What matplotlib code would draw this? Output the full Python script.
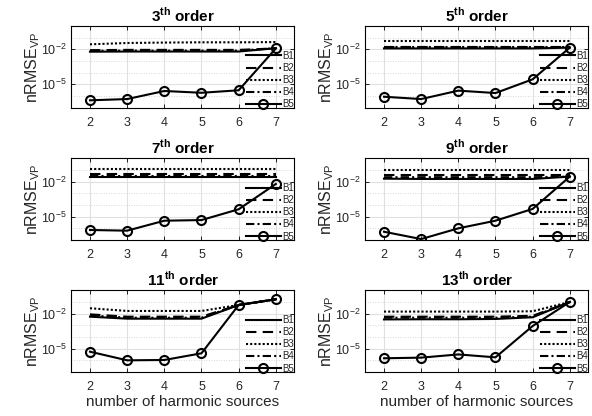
import matplotlib
matplotlib.use("Agg")
import matplotlib.pyplot as plt
from matplotlib.ticker import FixedLocator, FixedFormatter, NullFormatter

plt.rcParams["font.family"] = ["Liberation Sans", "DejaVu Sans"]
plt.rcParams["mathtext.fontset"] = "custom"
plt.rcParams["mathtext.rm"] = "Liberation Sans"
plt.rcParams["mathtext.bf"] = "Liberation Sans:bold"

# ---- data ----
sources = [2, 3, 4, 5, 6, 7]
orders = ["3", "5", "7", "9", "11", "13"]
labels = ["B1", "B2", "B3", "B4", "B5"]

b1 = {
    "3":  [6.3e-3, 6.5e-3, 6.5e-3, 6.5e-3, 6.5e-3, 1.25e-2],
    "5":  [1.2e-2, 1.2e-2, 1.2e-2, 1.2e-2, 1.2e-2, 1.4e-2],
    "7":  [2.3e-2, 2.3e-2, 2.3e-2, 2.3e-2, 2.3e-2, 2.3e-2],
    "9":  [1.8e-2, 1.7e-2, 1.7e-2, 1.7e-2, 1.7e-2, 2.7e-2],
    "11": [5.5e-3, 3.7e-3, 3.7e-3, 3.7e-3, 5.5e-2, 1.7e-1],
    "13": [3.2e-3, 3.3e-3, 3.3e-3, 3.5e-3, 4.9e-3, 1.0e-1],
}
b2 = {
    "3":  [8.5e-3, 9.0e-3, 9.0e-3, 9.0e-3, 9.0e-3, 1.2e-2],
    "5":  [1.7e-2, 1.7e-2, 1.7e-2, 1.7e-2, 1.7e-2, 1.7e-2],
    "7":  [4.5e-2, 4.5e-2, 4.5e-2, 4.5e-2, 4.5e-2, 4.5e-2],
    "9":  [3.5e-2, 3.5e-2, 3.5e-2, 3.5e-2, 3.5e-2, 3.5e-2],
    "11": [8.7e-3, 5.5e-3, 5.5e-3, 5.5e-3, 5.5e-2, 1.7e-1],
    "13": [5.5e-3, 5.5e-3, 5.5e-3, 5.5e-3, 6.5e-3, 1.0e-1],
}
b3 = {
    "3":  [2.7e-2, 3.5e-2, 3.8e-2, 4.0e-2, 4.0e-2, 4.2e-2],
    "5":  [5.5e-2, 5.5e-2, 5.5e-2, 5.5e-2, 5.5e-2, 5.5e-2],
    "7":  [1.2e-1, 1.2e-1, 1.2e-1, 1.2e-1, 1.2e-1, 1.2e-1],
    "9":  [9.3e-2, 9.3e-2, 9.3e-2, 9.3e-2, 9.3e-2, 9.3e-2],
    "11": [2.9e-2, 1.7e-2, 1.7e-2, 1.7e-2, 5.5e-2, 1.7e-1],
    "13": [1.5e-2, 1.5e-2, 1.5e-2, 1.5e-2, 1.6e-2, 1.0e-1],
}
b4 = {
    "3":  [7.5e-3, 7.8e-3, 7.8e-3, 7.8e-3, 7.8e-3, 1.25e-2],
    "5":  [1.45e-2, 1.45e-2, 1.45e-2, 1.45e-2, 1.45e-2, 1.45e-2],
    "7":  [3.2e-2, 3.2e-2, 3.2e-2, 3.2e-2, 3.2e-2, 3.2e-2],
    "9":  [2.4e-2, 2.4e-2, 2.4e-2, 2.4e-2, 2.4e-2, 2.7e-2],
    "11": [7.0e-3, 4.5e-3, 4.5e-3, 4.5e-3, 5.5e-2, 1.7e-1],
    "13": [4.5e-3, 4.5e-3, 4.5e-3, 4.5e-3, 5.5e-3, 1.0e-1],
}
b5 = {
    "3":  [4.3e-7, 5.5e-7, 2.7e-6, 1.9e-6, 3.1e-6, 1.2e-2],
    "5":  [8.7e-7, 5.5e-7, 2.9e-6, 1.8e-6, 2.7e-5, 1.4e-2],
    "7":  [7.2e-7, 6.3e-7, 4.5e-6, 5.1e-6, 4.3e-5, 6.3e-3],
    "9":  [5.1e-7, 1.2e-7, 1.0e-6, 4.5e-6, 4.6e-5, 2.7e-2],
    "11": [5.5e-6, 1.0e-6, 1.07e-6, 4.0e-6, 5.5e-2, 1.7e-1],
    "13": [1.5e-6, 1.7e-6, 3.2e-6, 1.8e-6, 8.7e-4, 1.0e-1],
}
yticks = [1e-5, 1e-2]
ytick_labels = [r"$\mathregular{10^{-5}}$", r"$\mathregular{10^{-2}}$"]

# ---- layout (figure fractions) ----
W, H = 592, 416
lefts = [71.4 / W, 365.4 / W]
bottoms = [1 - 107.7 / H, 1 - 240 / H, 1 - 372 / H]
aw, ah = 223 / W, 81.7 / H
txt = "#262626"

styles = [
    dict(ls="-"),
    dict(ls=(0, (5, 3))),
    dict(ls=(0, (1, 1))),
    dict(ls=(0, (4, 1.5, 1, 1.5))),
    dict(ls="-", marker="o", mfc="none", mec="black", ms=6.5, mew=1.5),
]

fig = plt.figure(figsize=(W / 100, H / 100), dpi=100)

for i, order in enumerate(orders):
    row, col = divmod(i, 2)
    ax = fig.add_axes([lefts[col], bottoms[row], aw, ah])
    series = [b1[order], b2[order], b3[order], b4[order], b5[order]]
    for vals, lab, st in zip(series, labels, styles):
        ax.plot(sources, vals, color="black", lw=1.5, label=lab, **st)

    ax.set_yscale("log")
    ax.set_ylim(1e-7, 1e0)
    ax.set_xlim(1.5, 7.5)
    ax.set_xticks(sources)
    ax.yaxis.set_major_locator(FixedLocator(yticks))
    ax.yaxis.set_major_formatter(FixedFormatter(ytick_labels))
    ax.yaxis.set_minor_locator(FixedLocator([10.0 ** k for k in range(-7, 1)]))
    ax.yaxis.set_minor_formatter(NullFormatter())
    ax.grid(True, which="major", color="#e0e0e0", lw=0.8)
    ax.grid(True, which="minor", axis="y", color="#cccccc", lw=0.6, ls=(0, (1, 2)))
    ax.set_axisbelow(True)
    ax.tick_params(which="both", direction="in", top=True, right=True,
                   labelsize=9, length=3, width=0.6, labelcolor=txt)
    ax.tick_params(axis="x", pad=6.5)
    ax.tick_params(which="minor", length=0)
    for sp in ax.spines.values():
        sp.set_linewidth(0.8)

    ax.set_title(r"%s$^{\mathbf{th}}$ order" % order, fontsize=11,
                 fontweight="bold", pad=3)
    ax.set_ylabel(r"nRMSE$_{\mathregular{VP}}$", fontsize=11.5, color=txt)
    ax.yaxis.set_label_coords(-0.13, 0.5)
    if row == 2:
        ax.set_xlabel("number of harmonic sources", fontsize=11, labelpad=1.5,
                      color=txt)

    leg = ax.legend(loc="lower right", bbox_to_anchor=(1.0, -0.02), frameon=False,
                    fontsize=7, handlelength=3.6, handletextpad=0.2,
                    labelspacing=0.22, borderaxespad=0.0, borderpad=0.0)
    for t in leg.get_texts():
        t.set_color(txt)

fig.savefig("out.png", dpi=100)
